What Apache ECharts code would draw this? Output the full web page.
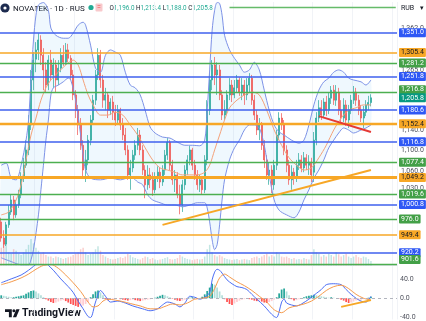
<!DOCTYPE html>
<html><head><meta charset="utf-8">
<script src="https://cdn.jsdelivr.net/npm/echarts/dist/echarts.min.js"></script>
<style>html,body{margin:0;padding:0;background:#fff;overflow:hidden}#c{width:426px;height:321px}</style>
</head><body><div id="c"></div>
<script>
// ---------- data ----------
const openP = [971,944,934,966,988,1009,983,1000,1018,1048,
1072,1101,1150,1244,1290,1311,1334,1299,1266,1233,
1288,1255,1277,1244,1270,1299,1283,1311,1292,1255,
1212,1180,1150,1110,1063,1082,1120,1160,1201,1255,
1299,1244,1201,1212,1180,1197,1176,1160,1180,1150,
1130,1101,1054,1067,1091,1110,1130,1101,1063,1036,
1054,1045,1027,1048,1059,1041,1063,1091,1116,1072,
1045,1054,1018,1000,1036,1063,1082,1101,1072,1054,
1036,1045,1027,1082,1180,1244,1277,1255,1266,1212,
1170,1180,1212,1233,1212,1227,1244,1218,1233,1212,
1233,1248,1201,1170,1140,1150,1110,1082,1054,1063,
1036,1072,1130,1164,1150,1101,1072,1045,1059,1048,
1072,1082,1067,1086,1072,1078,1059,1120,1164,1185,
1170,1197,1180,1205,1222,1201,1218,1180,1164,1191,
1160,1180,1201,1218,1201,1180,1164,1176,1191,1196.0];
const closeP = [944,934,966,988,1009,983,1000,1018,1048,1072,
1101,1150,1244,1288,1311,1334,1299,1266,1233,1288,
1255,1277,1244,1270,1299,1283,1311,1292,1255,1212,
1180,1150,1110,1063,1082,1120,1160,1201,1255,1299,
1244,1201,1212,1180,1197,1176,1160,1180,1150,1130,
1101,1054,1067,1091,1110,1130,1101,1063,1036,1054,
1045,1027,1048,1059,1041,1063,1091,1116,1072,1045,
1054,1018,1000,1036,1063,1082,1101,1072,1054,1036,
1045,1027,1082,1180,1244,1277,1255,1266,1212,1170,
1180,1212,1233,1212,1227,1244,1218,1233,1212,1233,
1248,1201,1170,1140,1150,1110,1082,1054,1063,1036,
1072,1130,1164,1150,1101,1072,1045,1059,1048,1072,
1082,1067,1086,1072,1078,1054,1120,1164,1185,1170,
1197,1180,1205,1222,1201,1218,1180,1164,1191,1160,
1180,1201,1218,1201,1180,1164,1176,1191,1196,1205.8];
const highP = [978,957,971,1000,1018,1016,1009,1027,1059,1086,
1120,1170,1266,1306,1329,1350,1345,1315,1283,1299,
1311,1292,1288,1288,1315,1322,1327,1325,1299,1266,
1222,1191,1164,1120,1101,1130,1170,1212,1266,1315,
1311,1255,1227,1218,1205,1210,1191,1191,1185,1164,
1144,1110,1082,1101,1120,1144,1140,1110,1072,1072,
1067,1059,1059,1070,1067,1072,1101,1124,1120,1082,
1063,1059,1036,1045,1072,1091,1109,1105,1082,1063,
1054,1052,1091,1201,1261,1288,1295,1283,1277,1222,
1201,1222,1248,1244,1244,1255,1250,1248,1244,1248,
1259,1255,1212,1180,1164,1156,1120,1091,1078,1072,
1082,1140,1176,1174,1160,1110,1082,1072,1067,1082,
1095,1091,1097,1093,1091,1086,1136,1176,1201,1201,
1205,1210,1218,1231,1233,1233,1227,1201,1205,1201,
1191,1212,1231,1227,1212,1191,1189,1201,1210,1213.4];
const lowP = [938,928,931,961,983,974,978,995,1012,1041,
1067,1091,1140,1222,1261,1288,1277,1222,1218,1222,
1244,1227,1218,1233,1261,1275,1277,1283,1244,1201,
1164,1130,1101,1048,1041,1072,1110,1150,1191,1244,
1227,1185,1180,1164,1170,1160,1148,1152,1140,1120,
1091,1045,1027,1059,1082,1101,1091,1054,1012,1027,
1030,1016,1021,1041,1030,1034,1054,1082,1063,1036,
1023,1012,984,988,1027,1054,1072,1063,1045,1027,
1023,1018,1021,1072,1170,1222,1233,1212,1201,1160,
1160,1170,1201,1197,1205,1218,1210,1201,1191,1201,
1218,1191,1160,1130,1120,1101,1067,1045,1036,1021,
1027,1063,1120,1140,1091,1059,1036,1027,1036,1041,
1063,1059,1059,1063,1054,1041,1041,1110,1156,1160,
1164,1168,1172,1193,1191,1189,1170,1152,1156,1148,
1144,1172,1193,1189,1170,1156,1144,1168,1180,1188.0];
const volume = [60,85,70,45,40,55,50,40,35,45,
55,70,90,75,60,50,40,45,35,30,
30,25,30,28,25,22,25,28,30,35,
40,45,55,60,45,35,40,45,55,65,
50,35,30,25,22,20,22,25,28,25,
30,40,35,28,25,22,20,25,30,28,
22,25,20,18,20,22,25,28,22,20,
22,25,35,30,25,22,20,18,20,22,
20,22,30,55,70,45,35,30,35,30,
25,22,20,18,20,22,18,20,22,20,
18,25,28,30,25,30,35,40,30,35,
30,45,40,30,28,30,25,22,25,20,
22,20,25,22,20,35,55,45,40,30,
35,30,40,35,30,45,38,30,35,40,
30,25,30,35,28,25,30,28,22,15];
const bbUpper = [[0,1072],[2,1076],[4,1048],[6,1045],[8,1072],[10,1120],[11,1160],[12,1244],[13,1334],[14,1393],[15,1418],[17,1424],[19,1405],[20,1362],[22,1345],[25,1338],[27,1338],[29,1350],[31,1369],[33,1376],[34,1369],[36,1322],[38,1270],[40,1261],[42,1299],[44,1311],[46,1306],[48,1299],[50,1261],[52,1233],[54,1227],[56,1212],[58,1180],[60,1146],[62,1134],[65,1126],[68,1124],[71,1116],[74,1110],[77,1110],[80,1109],[82,1120],[83,1180],[84,1266],[85,1357],[86,1405],[87,1424],[88,1422],[89,1393],[90,1345],[92,1311],[94,1292],[96,1277],[98,1261],[100,1266],[102,1283],[104,1266],[106,1222],[108,1180],[110,1150],[112,1136],[114,1130],[117,1120],[120,1114],[122,1120],[124,1150],[126,1191],[128,1222],[130,1240],[132,1248],[134,1261],[136,1266],[138,1261],[140,1248],[142,1244],[145,1240],[147,1233],[149,1244]];
const bbLower = [[0,912],[4,906],[8,901],[11,901],[12,909],[13,925],[15,983],[16,1027],[17,1072],[18,1120],[19,1160],[20,1212],[21,1227],[23,1233],[25,1240],[27,1248],[28,1244],[30,1201],[32,1130],[33,1091],[34,1063],[36,1048],[40,1045],[44,1048],[48,1045],[51,1048],[53,1048],[55,1041],[57,1036],[59,1018],[61,1009],[64,1004],[67,1000],[70,1000],[73,997],[76,1000],[79,1004],[82,1004],[83,995],[84,971],[85,941],[86,925],[87,933],[88,966],[89,1009],[90,1045],[92,1082],[94,1105],[96,1120],[98,1140],[100,1150],[102,1150],[104,1144],[106,1110],[108,1054],[110,1009],[112,991],[115,983],[118,978],[120,988],[122,1009],[124,1027],[126,1048],[128,1063],[130,1082],[132,1105],[134,1120],[136,1134],[138,1144],[140,1140],[142,1134],[145,1140],[147,1144],[149,1150]];
const bbBasis = [[0,983],[3,988],[6,1009],[8,1036],[10,1082],[12,1130],[14,1164],[16,1201],[18,1227],[20,1244],[23,1261],[26,1277],[29,1288],[31,1277],[33,1244],[35,1212],[37,1191],[40,1170],[43,1170],[46,1176],[49,1170],[52,1150],[55,1130],[58,1105],[61,1082],[64,1067],[67,1063],[70,1059],[73,1054],[76,1054],[79,1054],[82,1059],[84,1072],[86,1101],[88,1130],[90,1160],[92,1185],[95,1201],[98,1212],[101,1218],[104,1212],[107,1180],[110,1140],[113,1110],[116,1086],[119,1072],[122,1063],[125,1067],[128,1086],[131,1110],[134,1140],[137,1164],[140,1180],[143,1185],[146,1191],[149,1191]];
const macdLine = [[0,32],[4,40],[8,48],[11,58],[13,66],[15,74],[17,78],[19,68],[21,58],[24,40],[27,24],[29,12],[31,-6],[33,-22],[35,-38],[36,-40],[38,-8],[40,16],[42,4],[44,-8],[47,-6],[50,-10],[53,-16],[57,-22],[60,-26],[63,-22],[65,-14],[67,-8],[70,-12],[72,-18],[74,-10],[76,4],[78,2],[80,-2],[82,2],[84,12],[85,38],[86,54],[87,60],[88,58],[89,52],[91,38],[93,30],[95,24],[97,22],[99,18],[101,8],[103,-2],[106,-16],[108,-28],[110,-38],[111,-40],[112,-28],[113,-8],[114,-2],[115,-10],[117,-14],[119,-16],[121,-12],[124,-2],[127,10],[129,18],[131,28],[134,30],[137,28],[139,18],[141,8],[143,0],[145,-6],[147,-8],[148,-4],[149,4]];
const signalLine = [[0,28],[4,34],[8,42],[11,50],[14,60],[17,68],[20,70],[23,62],[26,48],[29,32],[32,14],[35,-8],[37,-18],[39,-16],[41,-6],[43,-2],[46,-4],[49,-7],[52,-11],[56,-16],[60,-22],[63,-22],[66,-17],[69,-12],[72,-14],[75,-10],[78,-2],[81,0],[84,4],[86,20],[88,42],[90,50],[92,44],[95,34],[98,26],[101,16],[104,4],[107,-8],[110,-24],[113,-30],[116,-20],[119,-16],[122,-12],[125,-6],[128,4],[131,16],[134,24],[137,27],[140,20],[143,8],[146,0],[149,-4]];
const histogram = [6,5,4,3,2,2,3,4,5,6,
9,12,15,16,14,10,6,2,-2,-5,
-8,-10,-9,-7,-5,-4,-6,-9,-12,-14,
-16,-18,-17,-15,-12,-8,2,8,14,16,
12,6,-2,-4,-3,-2,-1,0,-2,-3,
-4,-5,-4,-3,-4,-5,-6,-5,-4,-3,
-2,-1,1,3,5,7,6,4,2,-1,
-3,-5,-6,-5,-3,-1,1,2,1,-1,
0,3,8,15,22,30,28,22,14,6,
-2,-8,-12,-14,-11,-8,-5,-3,-2,-1,
-2,-3,-5,-6,-5,-7,-9,-10,-8,-6,
-3,2,10,18,20,14,6,-2,-5,-4,
-2,0,2,4,5,6,7,6,5,4,
3,2,1,2,1,0,-1,-3,-5,-8,
-10,-9,-7,-5,-4,-3,-2,-1,1,3];
const levelPrices = [1351.0,1305.4,1281.2,1251.8,1216.8,1180.6,1152.4,1116.8,1077.4,1049.2,1019.6,1000.8,976.0,949.4,920.2,901.6];
const levelKinds  = ['blue','orange','green','blue','green','blue','orange','blue','green','orange','green','blue','green','orange','blue','green'];
const tickLabels = [1362.0,1265.0,1140.0,1100.0,1060.0,1030.0];
const lastPrice = 1205.8;
const trendUp = [[65,966],[149,1063]];
const trendDown = [[128,1168],[149,1136]];
const macdTrend = [[137,-18],[149,-4]];
const topRay = [[92,1413],[159,1413]];
const macdTicks = [40,0,-40];
const ohlc = {O:'1,196.0',H:'1,213.4',L:'1,188.0',C:'1,205.8'};

// ---------- styles ----------
const NCAT = 160;
const cats = Array.from({length:NCAT},(_,i)=>'d'+(i+1));
const UP='#26a69a', DOWN='#ef5350';
const CLEAR='rgba(0,0,0,0)';
const kindStyle = {
  blue:{line:'#3f61ee', box:'#2f58f5', text:'#ffffff', w:1.5},
  orange:{line:'#f7a726', box:'#f7a726', text:'#131722', w:1.5},
  green:{line:'#4caf50', box:'#43a047', text:'#ffffff', w:1.3}
};
const widthOverride = {1152.4:2.4, 1049.2:3};
const labelOffset = {1216.8:[0,-3], 901.6:[0,-5]};
const FONT='Roboto';
function fmt(v){return v.toLocaleString('en-US',{minimumFractionDigits:1,maximumFractionDigits:1});}

const levelItems = [];
tickLabels.forEach(v=>levelItems.push({yAxis:v, lineStyle:{color:CLEAR, width:0},
  label:{show:true, position:'end', distance:4, formatter:fmt(v), color:'#50535e', fontSize:7, fontFamily:FONT}}));
levelPrices.forEach((v,k)=>{
  const s = kindStyle[levelKinds[k]];
  levelItems.push({yAxis:v, lineStyle:{color:s.line, width:widthOverride[v]||s.w, type:'solid'},
    label:{show:true, position:'end', distance:2, formatter:fmt(v), color:s.text, backgroundColor:s.box,
      fontSize:7, fontFamily:FONT, padding:[1,2,1,2], lineHeight:7, borderRadius:1, offset:labelOffset[v]||[0,0]}});
});
levelItems.push({yAxis:lastPrice, lineStyle:{color:CLEAR, width:0},
  label:{show:true, position:'end', distance:2, formatter:fmt(lastPrice), color:'#ffffff', backgroundColor:'#089981',
    fontSize:7, fontFamily:FONT, padding:[1,2,1,2], lineHeight:7, borderRadius:1}});
levelItems.push([{coord:topRay[0], lineStyle:{color:'#66bb6a', width:1.3, type:'solid'}, label:{show:false}},{coord:topRay[1]}]);
levelItems.push([{coord:trendUp[0], lineStyle:{color:'#f7a726', width:2, type:'solid'}, label:{show:false}},{coord:trendUp[1]}]);
levelItems.push([{coord:trendDown[0], lineStyle:{color:'#e53935', width:2, type:'solid'}, label:{show:false}},{coord:trendDown[1]}]);

const candleData = openP.map((o,i)=>[o, closeP[i], lowP[i], highP[i]]);
const volData = volume.map((v,i)=>({value:v, itemStyle:{color: closeP[i]>=openP[i]?'rgba(38,166,154,0.28)':'rgba(239,83,80,0.28)'}}));
const histData = histogram.map((v,i)=>{
  const prev = i>0?histogram[i-1]:0;
  let c = v>=0 ? (v>=prev?'#26a69a':'#b2dfdb') : (v<prev?'#ff5252':'#ffcdd2');
  return {value:v, itemStyle:{color:c}};
});

const chart = echarts.init(document.getElementById('c'), null, {renderer:'canvas'});
const gridW = 397;
const vSplit = {show:true, interval:(i)=>i%16===14, lineStyle:{color:'#f1f3f7', width:1}};
chart.setOption({
  animation:false,
  backgroundColor:'#ffffff',
  textStyle:{fontFamily:FONT},
  grid:[
    {left:0, top:2, width:gridW, height:263.4},
    {left:0, top:265.4, width:gridW, height:55.6},
    {left:0, top:236, width:gridW, height:29.4}
  ],
  xAxis:[
    {type:'category', gridIndex:0, data:cats, boundaryGap:true, axisTick:{show:false}, axisLabel:{show:false},
      axisLine:{show:true, lineStyle:{color:'#e0e3eb'}}, splitLine:vSplit},
    {type:'category', gridIndex:1, data:cats, boundaryGap:true, axisTick:{show:false}, axisLabel:{show:false},
      axisLine:{show:false}, splitLine:vSplit},
    {type:'category', gridIndex:2, data:cats, boundaryGap:true, show:false}
  ],
  yAxis:[
    {type:'log', gridIndex:0, min:900, max:1425.4, position:'right', axisLine:{show:false}, axisTick:{show:false},
      axisLabel:{show:false}, splitLine:{show:false}},
    {type:'value', gridIndex:1, min:-44, max:68, interval:4, position:'right', axisLine:{show:false}, axisTick:{show:false},
      splitLine:{show:false},
      axisLabel:{show:true, margin:3, fontSize:7, color:'#50535e', fontFamily:FONT,
        formatter:(v)=> macdTicks.indexOf(v)>=0 ? v.toFixed(1) : ''}},
    {type:'value', gridIndex:2, min:0, max:100, show:false}
  ],
  graphic:[
    {type:'circle', shape:{cx:5, cy:8, r:4.6}, style:{fill:'#1d2b4f'}},
    {type:'circle', shape:{cx:5, cy:8, r:1.6}, style:{fill:'#ffffff'}},
    {type:'text', x:13, y:8.5, style:{text:'NOVATEK · 1D · RUS', font:'8px Roboto', fill:'#131722', verticalAlign:'middle'}},
    {type:'circle', shape:{cx:91, cy:7.5, r:2.6}, style:{fill:'#22ab94'}},
    {type:'rect', shape:{x:95.5, y:3.5, width:7, height:8, r:1}, style:{fill:'#f8c9cc'}},
    {type:'text', x:99, y:7.5, style:{text:'=', font:'7px Roboto', fill:'#ef5350', align:'center', verticalAlign:'middle'}},
    {type:'text', x:109.5, y:8.5, style:{
      text:'{o|O}{v|'+ohlc.O+'} {o|H}{v|'+ohlc.H+'} {o|L}{v|'+ohlc.L+'} {o|C}{v|'+ohlc.C+'}',
      font:'6.3px Roboto', verticalAlign:'middle',
      rich:{o:{fill:'#131722', font:'6.3px Roboto'}, v:{fill:'#22ab94', font:'6.3px Roboto'}}}},
    {type:'text', x:401, y:8, style:{text:'RUB', font:'7px Roboto', fill:'#131722', verticalAlign:'middle'}},
    {type:'text', x:420, y:8, style:{text:'▾', font:'7px DejaVu Sans', fill:'#131722', verticalAlign:'middle'}},
    {type:'polygon', shape:{points:[[5,309.3],[11.8,309.3],[11.8,317.2],[8.9,317.2],[8.9,312.1],[5,312.1]]}, style:{fill:'#131722'}},
    {type:'circle', shape:{cx:13.9, cy:310.8, r:1.5}, style:{fill:'#131722'}},
    {type:'polygon', shape:{points:[[16.3,309.3],[19.6,309.3],[16.2,317.2],[12.9,317.2]]}, style:{fill:'#131722'}},
    {type:'text', x:22, y:313.5, style:{text:'TradingView', font:'bold 10.5px Roboto', fill:'#131722', verticalAlign:'middle'}}
  ],
  series:[
    {type:'bar', name:'vol', xAxisIndex:2, yAxisIndex:2, data:volData, barWidth:'60%', z:1, silent:true},
    {type:'custom', name:'bbfill', xAxisIndex:0, yAxisIndex:0, data:[[0,1000]], z:1, silent:true, clip:true,
      renderItem:function(params, api){
        const pts = bbUpper.map(p=>api.coord(p)).concat(bbLower.slice().reverse().map(p=>api.coord(p)));
        return {type:'polygon', shape:{points:pts, smooth:0.25}, style:{fill:'rgba(33,150,243,0.07)'}};
      }},
    {type:'line', name:'levels', xAxisIndex:0, yAxisIndex:0, data:[], z:2, silent:true,
      markLine:{symbol:['none','none'], silent:true, animation:false, data:levelItems}},
    {type:'candlestick', name:'price', xAxisIndex:0, yAxisIndex:0, data:candleData, barWidth:1.5, z:3,
      itemStyle:{color:UP, color0:DOWN, borderColor:UP, borderColor0:DOWN, borderWidth:0.7}},
    {type:'line', name:'upper', xAxisIndex:0, yAxisIndex:0, data:bbUpper, smooth:0.3, showSymbol:false, symbol:'none', z:4,
      lineStyle:{color:'#7d92e6', width:1}},
    {type:'line', name:'lower', xAxisIndex:0, yAxisIndex:0, data:bbLower, smooth:0.3, showSymbol:false, symbol:'none', z:4,
      lineStyle:{color:'#7d92e6', width:1}},
    {type:'line', name:'basis', xAxisIndex:0, yAxisIndex:0, data:bbBasis, smooth:0.3, showSymbol:false, symbol:'none', z:4,
      lineStyle:{color:'#f4a27a', width:1}},
    {type:'bar', name:'hist', xAxisIndex:1, yAxisIndex:1, data:histData, barWidth:'70%', z:2,
      markLine:{symbol:['none','none'], silent:true, animation:false, label:{show:false},
        data:[
          {yAxis:0, lineStyle:{color:'#b2b5be', type:[3,3], width:1}},
          [{coord:macdTrend[0], lineStyle:{color:'#f7a726', width:2, type:'solid'}},{coord:macdTrend[1]}]
        ]}},
    {type:'line', name:'macd', xAxisIndex:1, yAxisIndex:1, data:macdLine, smooth:0.3, symbol:'none', z:3,
      lineStyle:{color:'#4c6ef5', width:1}},
    {type:'line', name:'signal', xAxisIndex:1, yAxisIndex:1, data:signalLine, smooth:0.3, symbol:'none', z:3,
      lineStyle:{color:'#f59a4c', width:1}}
  ]
});
</script>
</body></html>
